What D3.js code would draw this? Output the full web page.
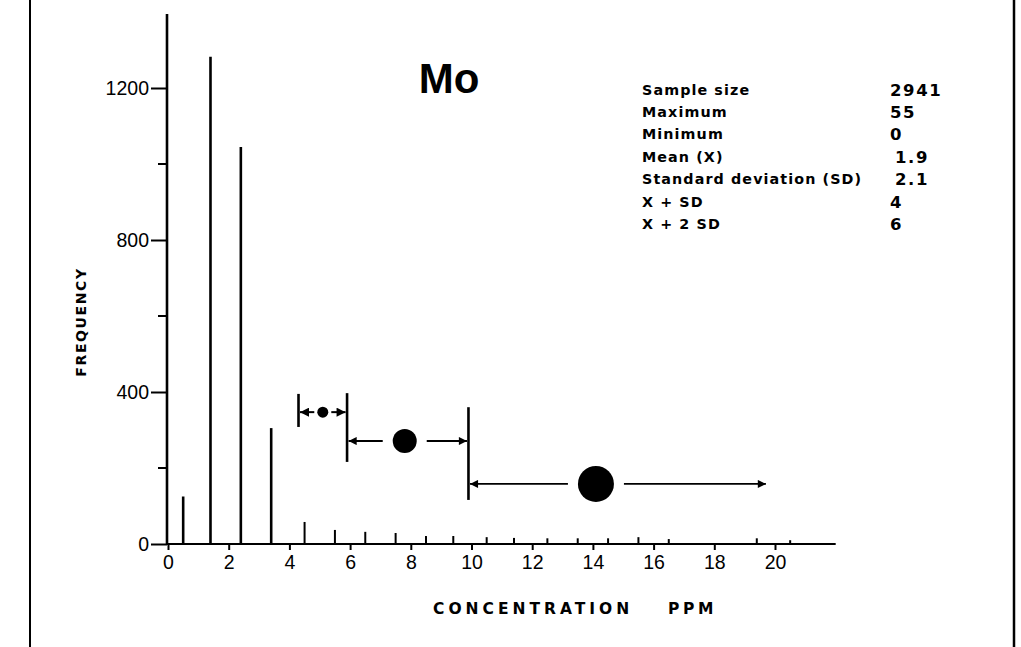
<!DOCTYPE html>
<html>
<head>
<meta charset="utf-8">
<title>Mo frequency</title>
<script src="https://cdn.jsdelivr.net/npm/d3@7"></script>
<style>
body { margin: 0; background: #fff; }
svg { display: block; font-family: "Liberation Sans", Arial, sans-serif; }
.wide { font-family: "DejaVu Sans", sans-serif; font-weight: bold; }
</style>
</head>
<body>
<script>
// histogram bars (concentration ppm, frequency)
var binX = [0.5, 1.4, 2.4, 3.4, 4.5, 5.5, 6.5, 7.5, 8.5, 9.4, 10.5, 11.4, 12.5, 13.5, 14.5, 15.5, 16.5, 19.4, 20.5];
var binFreq = [125, 1282, 1045, 305, 58, 37, 32, 29, 21, 21, 18, 16, 15, 15, 15, 18, 13, 15, 10];

var xTicks = [0, 2, 4, 6, 8, 10, 12, 14, 16, 18, 20];
var yTicks = [0, 400, 800, 1200];
var yMinor = [200, 600, 1000];

// symbol classes drawn as arrows between dividers
var classFrom = [4.3, 5.9, 9.9];
var classTo = [5.9, 9.9, 19.7];
var classDot = [5.1, 7.8, 14.1];
var classY = [347, 271, 158];
var classSize = [5.5, 12, 18];
var dividerX = [4.3, 5.9, 9.9];
var dividerLo = [308, 216, 116];
var dividerHi = [395, 397, 360];

var statLabels = ["Sample size", "Maximum", "Minimum", "Mean (X)", "Standard deviation (SD)", "X + SD", "X + 2 SD"];
var statValues = ["2941", "55", "0", "1.9", "2.1", "4", "6"];

var W = 1021, H = 647;
var svg = d3.select("body").append("svg").attr("width", W).attr("height", H);

var x = d3.scaleLinear().domain([0, 20]).range([168, 775]);
var y = d3.scaleLinear().domain([0, 1200]).range([544, 88]);

// frame lines
svg.append("line").attr("x1", 30).attr("x2", 30).attr("y1", 0).attr("y2", H).attr("stroke", "#000").attr("stroke-width", 2);
svg.append("line").attr("x1", 1014).attr("x2", 1014).attr("y1", 0).attr("y2", H).attr("stroke", "#000").attr("stroke-width", 2.5);

// bars
svg.append("g").selectAll("line").data(binX).enter().append("line")
  .attr("x1", d => x(d)).attr("x2", d => x(d))
  .attr("y1", y(0)).attr("y2", (d, i) => y(binFreq[i]))
  .attr("stroke", "#000").attr("stroke-width", (d, i) => binFreq[i] > 100 ? 2.6 : 2);

// x axis
var xa = svg.append("g").attr("transform", "translate(0," + y(0) + ")")
  .call(d3.axisBottom(x).tickValues(xTicks).tickSize(6).tickPadding(5).tickFormat(d3.format("d")));
xa.select(".domain").remove();
xa.append("line").attr("x1", x(-0.05)).attr("x2", x(22)).attr("y1", 0).attr("y2", 0).attr("stroke", "#000").attr("stroke-width", 2);
xa.selectAll(".tick line").attr("stroke-width", 2);
xa.selectAll(".tick text").attr("font-size", 19.5).attr("font-family", "Liberation Sans, Arial").attr("fill", "#000");

// y axis
var ya = svg.append("g").attr("transform", "translate(" + (x(0) - 1) + ",0)")
  .call(d3.axisLeft(y).tickValues(yTicks).tickSize(16).tickPadding(2).tickFormat(d3.format("d")));
ya.select(".domain").remove();
ya.append("line").attr("x1", 0).attr("x2", 0).attr("y1", y(0)).attr("y2", y(1395)).attr("stroke", "#000").attr("stroke-width", 2.6);
ya.selectAll(".tick line").attr("stroke-width", 2);
ya.selectAll(".tick text").attr("font-size", 19.5).attr("font-family", "Liberation Sans, Arial").attr("fill", "#000");
ya.selectAll(".minor").data(yMinor).enter().append("line")
  .attr("x1", -9).attr("x2", 0).attr("y1", d => y(d)).attr("y2", d => y(d))
  .attr("stroke", "#000").attr("stroke-width", 2);

// axis titles
svg.append("text").attr("class", "wide").text("CONCENTRATION")
  .attr("x", 433).attr("y", 614)
  .attr("font-size", 15.5).attr("letter-spacing", 4);
svg.append("text").attr("class", "wide").text("PPM")
  .attr("x", 668).attr("y", 614)
  .attr("font-size", 15.5).attr("letter-spacing", 3.6);
svg.append("text").attr("class", "wide").text("FREQUENCY")
  .attr("transform", "translate(86,322) rotate(-90)").attr("text-anchor", "middle")
  .attr("font-size", 14).attr("letter-spacing", 1.6);

// title
svg.append("text").text("Mo").attr("x", 449).attr("y", 93).attr("text-anchor", "middle")
  .attr("font-size", 42).attr("font-weight", "bold");

// stats table
var st = svg.append("g");
statLabels.forEach(function(s, i) {
  st.append("text").attr("class", "wide").text(s).attr("x", 642).attr("y", 94.5 + i * 22.4)
    .attr("font-size", 14.3).attr("letter-spacing", 1.1);
  st.append("text").attr("class", "wide").text(statValues[i]).attr("x", i == 3 || i == 4 ? 895 : 890).attr("y", 95.5 + i * 22.4)
    .attr("font-size", 16.5).attr("letter-spacing", 1.6);
});

// arrowhead
svg.append("defs").append("marker").attr("id", "ah")
  .attr("viewBox", "0 0 10 10").attr("refX", 10).attr("refY", 5)
  .attr("markerWidth", 6).attr("markerHeight", 4.5).attr("markerUnits", "strokeWidth")
  .attr("orient", "auto")
  .append("path").attr("d", "M0,0 L10,5 L0,10 Z").attr("fill", "#000");

var cls = svg.append("g");
dividerX.forEach(function(d, i) {
  cls.append("line").attr("x1", x(d)).attr("x2", x(d))
    .attr("y1", y(dividerLo[i])).attr("y2", y(dividerHi[i]))
    .attr("stroke", "#000").attr("stroke-width", 2.6);
});
classDot.forEach(function(d, i) {
  var cy = y(classY[i]), r = classSize[i], gap = r + (i == 0 ? 3 : 10);
  cls.append("circle").attr("cx", x(d)).attr("cy", cy).attr("r", r).attr("fill", "#000");
  cls.append("line").attr("x1", x(d) - gap).attr("x2", x(classFrom[i]) + 1.5)
    .attr("y1", cy).attr("y2", cy).attr("stroke", "#000").attr("stroke-width", i == 0 ? 2 : 1.8)
    .attr("marker-end", "url(#ah)");
  cls.append("line").attr("x1", x(d) + gap).attr("x2", x(classTo[i]) - (i < 2 ? 1.5 : 0))
    .attr("y1", cy).attr("y2", cy).attr("stroke", "#000").attr("stroke-width", i == 0 ? 2 : 1.8)
    .attr("marker-end", "url(#ah)");
});
</script>
</body>
</html>
